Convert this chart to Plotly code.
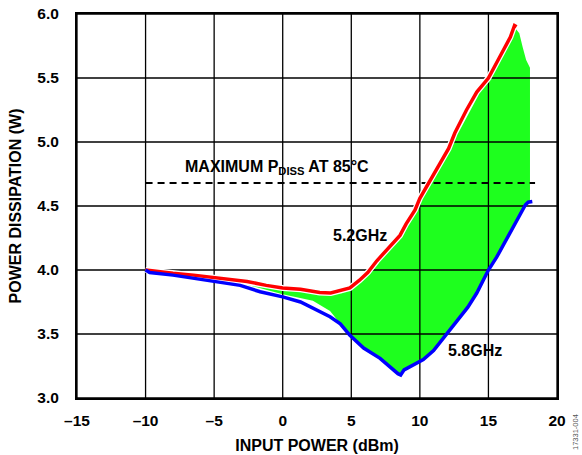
import plotly.graph_objects as go

# ---- data ----
x_ticks = [-15, -10, -5, 0, 5, 10, 15, 20]
x_tick_labels = ["–15", "–10", "–5", "0", "5", "10", "15", "20"]
y_ticks = [3.0, 3.5, 4.0, 4.5, 5.0, 5.5, 6.0]
y_tick_labels = ["3.0", "3.5", "4.0", "4.5", "5.0", "5.5", "6.0"]

red_x = [-10, -9.3, -8, -6.5, -5, -4, -2.6, -1.2, 0, 1.3, 2.7, 3.5, 4.2, 4.9, 5.6,
         6.2, 6.85, 7.6, 8.55, 9.0, 9.65, 10.0, 10.75, 11.5, 12.1, 12.55, 13.4,
         14.15, 15.0, 15.85, 16.6, 16.9, 17.05]
red_y = [4.00, 3.99, 3.975, 3.96, 3.94, 3.93, 3.91, 3.88, 3.86, 3.85, 3.825, 3.82,
         3.84, 3.86, 3.92, 3.98, 4.07, 4.16, 4.27, 4.36, 4.47, 4.56, 4.70, 4.83,
         4.95, 5.07, 5.25, 5.39, 5.50, 5.67, 5.82, 5.91, 5.90]

blue_x = [-10, -9.7, -8, -6.5, -5, -3.1, -1.65, 0, 1.3, 2.2, 3.45, 4.2, 4.9, 5.9,
          7.1, 8.4, 8.6, 8.85, 9.8, 10.25, 11.0, 12.2, 13.5, 14.15, 15.0, 15.6,
          16.35, 16.9, 17.7, 17.9, 18.2]
blue_y = [4.00, 3.98, 3.96, 3.935, 3.91, 3.88, 3.83, 3.79, 3.75, 3.70, 3.635, 3.58,
          3.49, 3.39, 3.31, 3.19, 3.18, 3.22, 3.27, 3.30, 3.37, 3.53, 3.71, 3.82,
          4.00, 4.10, 4.25, 4.36, 4.51, 4.53, 4.535]

# green band envelope (frequencies between 5.2 GHz and 5.8 GHz)
band_top_x = [-4.5, -4, -2.6, -1.2, 0, 1.3, 2.7, 3.5, 4.2, 4.9, 5.6, 6.2, 6.85, 7.6,
              8.55, 9.0, 9.65, 10.0, 10.75, 11.5, 12.1, 12.55, 13.4, 14.15, 15.0,
              15.85, 16.6, 16.95, 17.25, 17.5, 17.75, 18.03, 18.03]
band_top_y = [3.925, 3.92, 3.90, 3.87, 3.85, 3.835, 3.81, 3.805, 3.825, 3.845, 3.905,
              3.965, 4.055, 4.145, 4.255, 4.345, 4.455, 4.545, 4.685, 4.815, 4.935,
              5.055, 5.235, 5.375, 5.485, 5.655, 5.805, 5.89, 5.85, 5.74, 5.64, 5.58,
              4.535]
band_bot_x = [17.9, 17.7, 16.9, 16.35, 15.6, 15.0, 14.15, 13.5, 12.2, 11.0, 10.25,
              9.8, 8.85, 8.6, 8.4, 7.1, 5.9, 4.9, 4.2, 3.45, 2.2, 0, -2.6, -4.5]
band_bot_y = [4.53, 4.51, 4.36, 4.25, 4.10, 4.00, 3.82, 3.71, 3.53, 3.37, 3.30,
              3.27, 3.22, 3.18, 3.19, 3.31, 3.39, 3.49, 3.58, 3.68, 3.76, 3.81,
              3.885, 3.925]

pdiss_max = 4.68
pdiss_x = [-10, 18.4]

FONT = "Liberation Sans, Arial, sans-serif"
W, H = 582, 455
ML, MR, MT, MB = 77, 25, 14, 57

fig = go.Figure()

# green band
fig.add_trace(go.Scatter(
    x=band_top_x + band_bot_x, y=band_top_y + band_bot_y,
    mode="lines", fill="toself", fillcolor="#1eff1e",
    line=dict(width=0, color="#1eff1e"), hoverinfo="skip", showlegend=False))

# grid lines (drawn above the band, below curves)
gx, gy = [], []
for v in x_ticks:
    gx += [v, v, None]
    gy += [y_ticks[0], y_ticks[-1], None]
for v in y_ticks:
    gx += [x_ticks[0], x_ticks[-1], None]
    gy += [v, v, None]
fig.add_trace(go.Scatter(x=gx, y=gy, mode="lines",
                         line=dict(color="black", width=1.3),
                         hoverinfo="skip", showlegend=False))

# max Pdiss dashed line
fig.add_trace(go.Scatter(x=pdiss_x, y=[pdiss_max] * len(pdiss_x), mode="lines",
                         line=dict(color="black", width=2, dash="7px,5px"),
                         hoverinfo="skip", showlegend=False))

# white halo + red curve
fig.add_trace(go.Scatter(x=red_x, y=red_y, mode="lines",
                         line=dict(color="white", width=6),
                         hoverinfo="skip", showlegend=False))
fig.add_trace(go.Scatter(x=red_x, y=red_y, mode="lines",
                         line=dict(color="#ff0000", width=3.5),
                         name="5.2GHz", showlegend=False))
# blue curve
fig.add_trace(go.Scatter(x=blue_x, y=blue_y, mode="lines",
                         line=dict(color="#0000ff", width=3.5),
                         name="5.8GHz", showlegend=False))

lab_font = dict(size=16, color="black", family=FONT, weight="bold")
fig.add_annotation(x=-0.4, y=4.80, text="MAXIMUM P<sub>DISS</sub> AT 85°C",
                   showarrow=False, font=lab_font)
fig.add_annotation(x=5.64, y=4.27, text="5.2GHz", showarrow=False, font=lab_font)
fig.add_annotation(x=14.02, y=3.375, text="5.8GHz", showarrow=False, font=lab_font)
fig.add_annotation(xref="paper", yref="paper",
                   x=(575 - ML) / (W - ML - MR), y=(H - MB - 432) / (H - MT - MB),
                   xanchor="center", yanchor="middle",
                   text="17331-004", showarrow=False, textangle=-90,
                   font=dict(size=7.5, color="#555555", family=FONT))

axis_common = dict(showgrid=False, zeroline=False, showline=True, mirror=True,
                   linecolor="black", linewidth=2, ticks="", automargin=False,
                   tickfont=dict(size=15.5, color="black", family=FONT, weight="bold"),
                   title_font=dict(size=16, color="black", family=FONT, weight="bold"))

fig.update_layout(
    width=W, height=H,
    margin=dict(l=ML, r=MR, t=MT, b=MB, pad=0),
    paper_bgcolor="white", plot_bgcolor="white",
    font=dict(family=FONT, color="black"),
    xaxis=dict(range=[-15, 20], tickvals=x_ticks, ticktext=x_tick_labels,
               title=dict(text="INPUT POWER (dBm)", standoff=12),
               ticklabelstandoff=7, **axis_common),
    yaxis=dict(range=[3, 6], tickvals=y_ticks, ticktext=y_tick_labels,
               title=dict(text="POWER DISSIPATION (W)", standoff=12),
               ticklabelstandoff=13, **axis_common),
)

fig.write_html("out.html", config={"displayModeBar": False},
               post_script="document.body.style.margin='0';document.body.style.overflow='hidden';")
